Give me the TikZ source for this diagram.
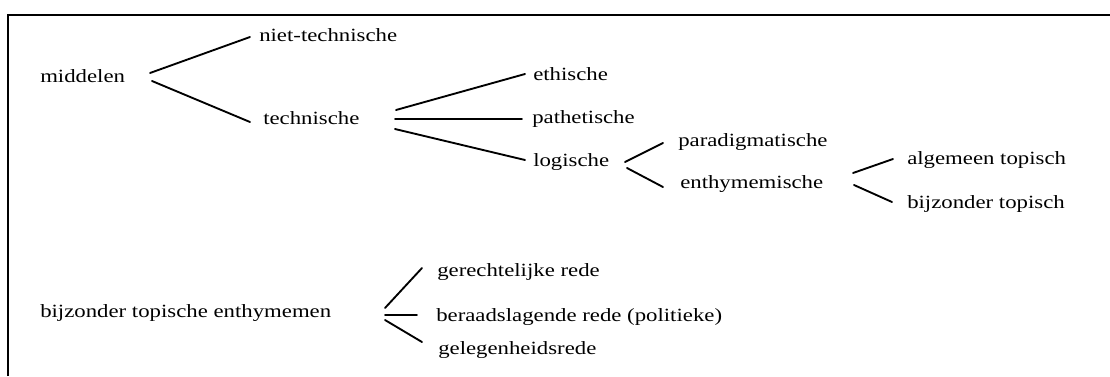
\documentclass[tikz,border=0pt]{standalone}
\usepackage{fontspec}
\setmainfont{Liberation Serif}
\newcommand{\wide}[1]{\scalebox{1.22}[1]{#1}}
\begin{document}
\begin{tikzpicture}[x=0.75pt,y=-0.75pt,
  lbl/.style={anchor=base west,inner sep=0pt,font=\fontsize{14}{17}\selectfont},
  conn/.style={line width=1.4pt,line cap=round},
  frame/.style={line width=1.5pt}]
\useasboundingbox (0,0) rectangle (1110,376);
\draw[frame] (8,376) -- (8,15) -- (1110,15);
% nodes
\node[lbl] (mid)  at (40,82)   {\wide{middelen}};
\node[lbl] (nt)   at (259,41)  {\wide{niet-technische}};
\node[lbl] (tech) at (263,124) {\wide{technische}};
\node[lbl] (eth)  at (533,80)  {\wide{ethische}};
\node[lbl] (path) at (532,123) {\wide{pathetische}};
\node[lbl] (log)  at (533,166) {\wide{logische}};
\node[lbl] (para) at (678,146) {\wide{paradigmatische}};
\node[lbl] (enth) at (680,188) {\wide{enthymemische}};
\node[lbl] (alg)  at (907,164) {\wide{algemeen topisch}};
\node[lbl] (bij)  at (907,208) {\wide{bijzonder topisch}};
\node[lbl] (bte)  at (40,317)  {\wide{bijzonder topische enthymemen}};
\node[lbl] (ger)  at (437,276) {\wide{gerechtelijke rede}};
\node[lbl] (ber)  at (436,321) {\wide{beraadslagende rede (politieke)}};
\node[lbl] (gel)  at (438,354) {\wide{gelegenheidsrede}};
% connectors
\draw[conn] ([shift={(110,-9)}]mid.base west) -- ([shift={(-9,-4)}]nt.base west);
\draw[conn] ([shift={(112,-1)}]mid.base west) -- ([shift={(-13,-2)}]tech.base west);
\draw[conn] ([shift={(133,-14)}]tech.base west) -- ([shift={(-8,-6)}]eth.base west);
\draw[conn] ([shift={(132,-5)}]tech.base west) -- ([shift={(-10,-4)}]path.base west);
\draw[conn] ([shift={(132,5)}]tech.base west) -- ([shift={(-8,-6)}]log.base west);
\draw[conn] ([shift={(92,-4)}]log.base west) -- ([shift={(-15,-3)}]para.base west);
\draw[conn] ([shift={(94,2)}]log.base west) -- ([shift={(-17,-1)}]enth.base west);
\draw[conn] ([shift={(173,-15)}]enth.base west) -- ([shift={(-14,-5)}]alg.base west);
\draw[conn] ([shift={(174,-3)}]enth.base west) -- ([shift={(-15,-6)}]bij.base west);
\draw[conn] ([shift={(345,-9)}]bte.base west) -- ([shift={(-15,-8)}]ger.base west);
\draw[conn] ([shift={(345,-2)}]bte.base west) -- ([shift={(-19,-6)}]ber.base west);
\draw[conn] ([shift={(345,3)}]bte.base west) -- ([shift={(-16,-12)}]gel.base west);
\end{tikzpicture}
\end{document}
